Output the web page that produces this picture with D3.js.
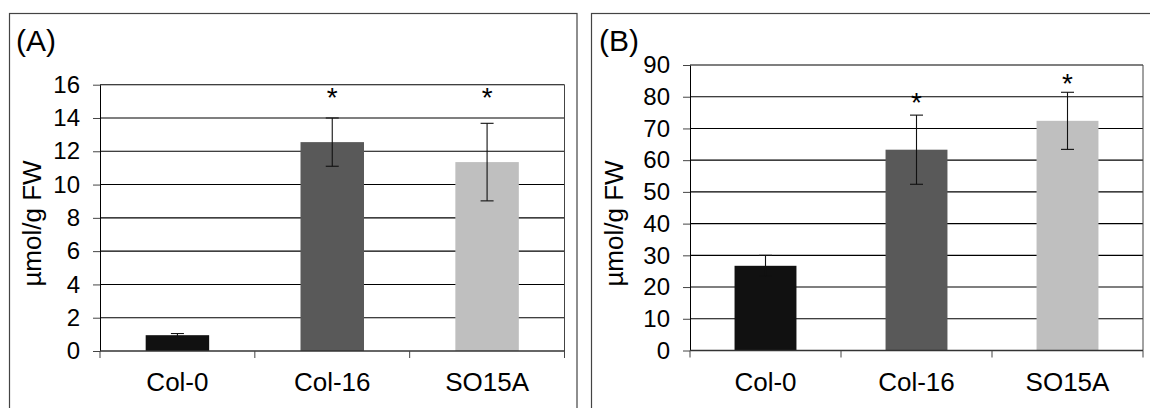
<!DOCTYPE html>
<html>
<head>
<meta charset="utf-8">
<script src="https://cdn.jsdelivr.net/npm/d3@7"></script>
<style>
  body { margin: 0; background: #fff; }
  text { font-family: Arial, "Liberation Sans", sans-serif; fill: #000; }
</style>
</head>
<body>
<div id="chart"></div>
<script>
// data
var categories = ["Col-0", "Col-16", "SO15A"];
var barColors = ["#111111", "#595959", "#bfbfbf"];

var meansA = [0.95, 12.55, 11.35];
var errA = [0.1, 1.45, 2.33];
var starA = [null, 15.5, 15.5];
var ticksA = [0, 2, 4, 6, 8, 10, 12, 14, 16];

var meansB = [26.7, 63.3, 72.4];
var errB = [3.3, 10.9, 9.0];
var starB = [null, 79.5, 85.6];
var ticksB = [0, 10, 20, 30, 40, 50, 60, 70, 80, 90];

var svg = d3.select("#chart")
	.append("svg")
	.attr("width", 1150)
	.attr("height", 408);

svg.append("rect")
	.attr("width", 1150)
	.attr("height", 408)
	.attr("fill", "#fff");

var panels = [
	{ label: "(A)", means: meansA, err: errA, star: starA, ticks: ticksA,
	  frameX: 9.5, frameW: 567.5, labelX: 16,
	  left: 100, right: 564.5, top: 84.7, bottom: 351, titleX: 41 },
	{ label: "(B)", means: meansB, err: errB, star: starB, ticks: ticksB,
	  frameX: 591.5, frameW: 620, labelX: 599,
	  left: 690, right: 1143, top: 65, bottom: 350.5, titleX: 623 }
];

panels.forEach(function (p) {
	var g = svg.append("g");

	// outer frame
	g.append("rect")
		.attr("x", p.frameX)
		.attr("y", 13.5)
		.attr("width", p.frameW)
		.attr("height", 500)
		.attr("fill", "none")
		.attr("stroke", "#444")
		.attr("stroke-width", 1.2);

	g.append("text")
		.attr("x", p.labelX)
		.attr("y", 51)
		.style("font-size", "30px")
		.text(p.label);

	var x = d3.scaleBand()
		.domain(categories)
		.range([p.left, p.right])
		.paddingInner(0.59)
		.paddingOuter(0.295);

	var y = d3.scaleLinear()
		.domain([0, d3.max(p.ticks)])
		.range([p.bottom, p.top]);

	// gridlines
	g.selectAll(".grid")
		.data(p.ticks.slice(1))
		.enter()
		.append("line")
		.attr("x1", p.left)
		.attr("x2", p.right)
		.attr("y1", function (d) { return y(d); })
		.attr("y2", function (d) { return y(d); })
		.attr("stroke", "#000")
		.attr("stroke-width", 1.1);

	// right border of plot area
	g.append("line")
		.attr("x1", p.right).attr("x2", p.right)
		.attr("y1", p.top).attr("y2", p.bottom)
		.attr("stroke", "#444");

	// y axis
	var yAxis = g.append("g")
		.attr("transform", "translate(" + p.left + ",0)")
		.call(d3.axisLeft(y).tickValues(p.ticks).tickSize(7).tickPadding(13).tickSizeOuter(0));
	yAxis.select(".domain").attr("stroke", "#000");
	yAxis.selectAll(".tick line").attr("stroke", "#444");
	yAxis.selectAll("text").style("font-size", "24px").attr("fill", "#000");

	g.append("text")
		.attr("transform", "translate(" + p.titleX + ",223.5) rotate(-90)")
		.attr("text-anchor", "middle")
		.style("font-size", "26px")
		.text("µmol/g FW");

	// bars
	g.selectAll(".bar")
		.data(categories)
		.enter()
		.append("rect")
		.attr("x", function (d) { return x(d); })
		.attr("y", function (d, i) { return y(p.means[i]); })
		.attr("width", x.bandwidth())
		.attr("height", function (d, i) { return y(0) - y(p.means[i]); })
		.attr("fill", function (d, i) { return barColors[i]; });

	// x axis line and boundary ticks
	var step = x.step();
	g.append("line")
		.attr("x1", p.left).attr("x2", p.right)
		.attr("y1", y(0)).attr("y2", y(0))
		.attr("stroke", "#333").attr("stroke-width", 1.4);
	g.selectAll(".xtick")
		.data(d3.range(categories.length + 1))
		.enter()
		.append("line")
		.attr("x1", function (i) { return p.left + i * step; })
		.attr("x2", function (i) { return p.left + i * step; })
		.attr("y1", y(0))
		.attr("y2", y(0) + 7)
		.attr("stroke", "#444");

	var xAxis = g.append("g")
		.attr("transform", "translate(0," + y(0) + ")")
		.call(d3.axisBottom(x).tickSize(0).tickSizeOuter(0));
	xAxis.select(".domain").remove();
	xAxis.selectAll("text")
		.attr("y", 40)
		.attr("dy", null)
		.style("font-size", "26px")
		.attr("fill", "#000");

	// error bars
	var eb = g.selectAll(".err")
		.data(categories)
		.enter()
		.append("g")
		.attr("stroke", "#111")
		.attr("stroke-width", 1.1);
	eb.append("line")
		.attr("x1", function (d) { return x(d) + x.bandwidth() / 2; })
		.attr("x2", function (d) { return x(d) + x.bandwidth() / 2; })
		.attr("y1", function (d, i) { return y(p.means[i] + p.err[i]); })
		.attr("y2", function (d, i) { return y(p.means[i] - p.err[i]); });
	[1, -1].forEach(function (s) {
		eb.append("line")
			.attr("x1", function (d) { return x(d) + x.bandwidth() / 2 - 6.5; })
			.attr("x2", function (d) { return x(d) + x.bandwidth() / 2 + 6.5; })
			.attr("y1", function (d, i) { return y(p.means[i] + s * p.err[i]); })
			.attr("y2", function (d, i) { return y(p.means[i] + s * p.err[i]); });
	});

	// significance marks
	g.selectAll(".star")
		.data(categories.filter(function (d, i) { return p.star[i] != null; }))
		.enter()
		.append("text")
		.attr("text-anchor", "middle")
		.attr("x", function (d) { return x(d) + x.bandwidth() / 2; })
		.attr("y", function (d) { return y(p.star[categories.indexOf(d)]) + 14; })
		.style("font-size", "28px")
		.text("*");
});
</script>
</body>
</html>
